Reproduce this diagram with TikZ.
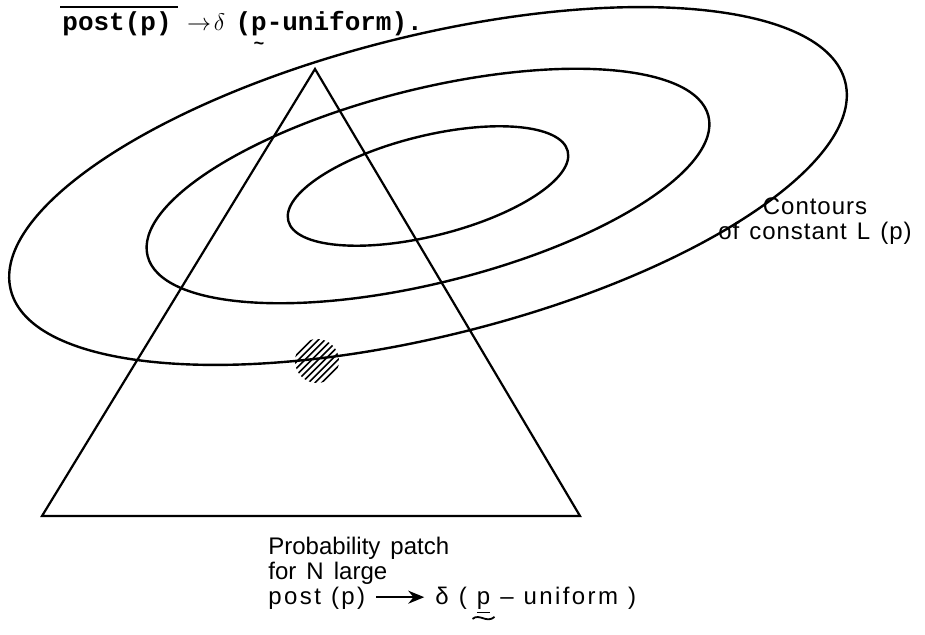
\documentclass[tikz,border=0pt]{standalone}
\usepackage{fontspec}
\setmainfont{Liberation Sans}
\newfontfamily\typefont{Liberation Mono}
\newfontfamily\widefont{Liberation Sans}[LetterSpace=10]
\newfontfamily\midfont{Liberation Sans}[LetterSpace=4]
\usetikzlibrary{arrows.meta}

% long arrow with a filled head, as set in the labels
\newcommand{\bigarrow}{\tikz[baseline=-0.6ex]\draw[line width=1pt,-{Stealth[length=8pt,width=6.5pt]}] (0,0) -- (24pt,0);}
% small tilde set under a letter
\newcommand{\undertilde}[1]{\leavevmode\setbox0\hbox{#1}\rlap{\hbox to\wd0{\hss\raisebox{-0.72em}{\fontsize{9}{9}\selectfont\char`\~}\hss}}#1}
% underlined letter with a wide wavy line under it
\newcommand{\underwave}[1]{\leavevmode\setbox0\hbox{\underline{#1}}\rlap{\hbox to\wd0{\hss\raisebox{-10pt}{\tikz\draw[line width=0.9pt] (0,0) .. controls (3.5pt,3pt) and (7pt,-2.5pt) .. (11pt,1pt);}\hss}}\box0\relax}
\newcommand{\widespaces}{\spaceskip=0.42em plus 0.1em\relax}

\begin{document}
\begin{tikzpicture}[x=0.5pt,y=-0.5pt,
  contour/.style={line width=1.2pt},
  edge/.style={line width=1.1pt},
  hatch/.style={line width=0.8pt},
  lbl/.style={font=\fontsize{12}{12.5}\selectfont\widespaces,inner sep=0pt}]
\useasboundingbox (0,0) rectangle (925,635);
% corners of the simplex and centre of the contours
\coordinate (apex) at (315,69);
\coordinate (left) at (42,516);
\coordinate (right) at (580,516);
\coordinate (mid) at (428,186);
\coordinate (patch) at (317,361);

% contours of constant L(p)
\foreach \ra/\rb in {430/150,289/97,144/50}
  \draw[contour,shift={(mid)},rotate=14] (0,0) ellipse [x radius=\ra,y radius=\rb];

% the simplex
\draw[edge] (apex) -- (left) -- (right) -- cycle;

% probability patch
\begin{scope}
  \clip (patch) circle [radius=22];
  \foreach \k in {-7,...,7}
    \draw[hatch,shift={(patch)}] (\k*6.6-30,30) -- ++(60,-60);
\end{scope}

% caption, cut at the top
\draw[line width=1pt] (60,7) -- (178,7);
\node[font=\typefont\bfseries\fontsize{13}{14}\selectfont,anchor=base west,inner sep=0pt] (caption) at (62,31)
  {post(p) {\fontsize{12}{12}\selectfont$\to\!\delta$}\hspace{0.4em}(\undertilde{p}-uniform).};

% labels
\node[lbl,align=center] (contours) at (815,221) {\midfont Contours\\\midfont of constant L (p)};
\node[lbl,align=left,anchor=north west] (patchlbl) at (268,537)
  {Probability patch\\for N large\\\widefont post (p) \bigarrow\ δ ( \underwave{p} – uniform )};
\end{tikzpicture}
\end{document}
